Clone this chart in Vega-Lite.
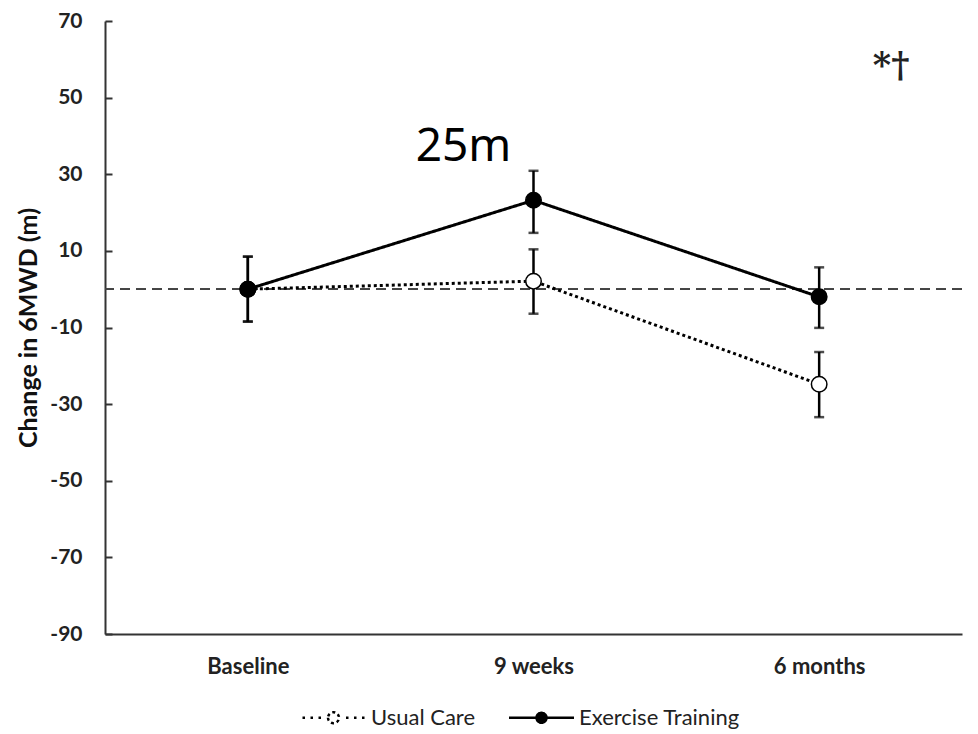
{
  "$schema": "https://vega.github.io/schema/vega-lite/v6.json",
  "width": 857,
  "height": 613,
  "autosize": "none",
  "padding": {"left": 105, "top": 21, "right": 16, "bottom": 100},
  "background": "white",
  "config": {
    "view": {"stroke": null},
    "font": "Lato",
    "axis": {"grid": false, "domainColor": "#333", "domainWidth": 2, "tickColor": "#333", "tickWidth": 2, "labelColor": "#222", "titleColor": "#111"},
    "legend": {
      "title": null, "orient": "none", "direction": "horizontal", "legendX": 217, "legendY": 685,
      "symbolSize": 400, "symbolStrokeWidth": 2.5, "symbolStrokeColor": "black",
      "labelFont": "Lato", "labelFontSize": 22, "labelLimit": 300, "labelColor": "#222", "columnPadding": 28, "labelOffset": 26
    }
  },
  "datasets": {
    "pts": [
      {"time": "Baseline", "group": "Usual Care", "mean": 0, "lower": -8.5, "upper": 8.5},
      {"time": "9 weeks", "group": "Usual Care", "mean": 2.1, "lower": -6.4, "upper": 10.4},
      {"time": "6 months", "group": "Usual Care", "mean": -24.8, "lower": -33.4, "upper": -16.4},
      {"time": "Baseline", "group": "Exercise Training", "mean": 0, "lower": -8.4, "upper": 8.5},
      {"time": "9 weeks", "group": "Exercise Training", "mean": 23.2, "lower": 14.7, "upper": 30.9},
      {"time": "6 months", "group": "Exercise Training", "mean": -2.0, "lower": -10.1, "upper": 5.7}
    ],
    "notes": [
      {"time": "9 weeks", "y": 33.5, "label": "25m", "kind": "big"},
      {"time": "6 months", "y": 55.5, "label": "*†", "kind": "sig"}
    ]
  },
  "data": {"name": "pts"},
  "encoding": {
    "x": {"field": "time", "type": "ordinal", "sort": ["Baseline", "9 weeks", "6 months"],
      "scale": {"type": "point", "padding": 0.5, "domain": ["Baseline", "9 weeks", "6 months"]},
      "axis": {"title": null, "ticks": false, "labelPadding": 22, "labelFontSize": 22, "labelFontWeight": "bold", "labelAngle": 0}}
  },
  "layer": [
    {
      "mark": {"type": "rule", "strokeDash": [10, 6], "color": "#444", "strokeWidth": 1.5},
      "encoding": {"x": null, "y": {"datum": 0, "type": "quantitative"}}
    },
    {
      "mark": {"type": "line", "color": "black", "strokeWidth": 3},
      "encoding": {
        "y": {"field": "mean", "type": "quantitative",
          "scale": {"domain": [-90, 70], "nice": false, "zero": false},
          "axis": {"title": "Change in 6MWD (m)", "values": [-90, -70, -50, -30, -10, 10, 30, 50, 70], "labelExpr": "'' + datum.value", "tickSize": -7, "labelPadding": 30, "labelFontSize": 21, "labelFontWeight": "bold", "titleFontSize": 25, "titleFontWeight": "bold", "titlePadding": 8}},
        "strokeDash": {"field": "group", "type": "nominal", "scale": {"domain": ["Usual Care", "Exercise Training"], "range": [[3, 3], [1, 0]]},
          "legend": {
            "encode": {"symbols": {"update": {
              "shape": {"signal": "datum.value === 'Usual Care' ? 'M-3.1,0H-2.85M-2.3,0H-2.05M-1.5,0H-1.25M-0.55,0A0.55,0.55 0 1,0 0.55,0A0.55,0.55 0 1,0 -0.55,0ZM1.25,0H1.5M2.05,0H2.3M2.85,0H3.1' : 'M-3.25,0H-0.5M-0.5,0A0.5,0.5 0 1,0 0.5,0A0.5,0.5 0 1,0 -0.5,0ZM0.5,0H3.25'"},
              "fill": {"signal": "datum.value === 'Usual Care' ? 'white' : 'black'"},
              "stroke": {"value": "black"},
              "strokeDash": {"signal": "[1, 0]"},
              "strokeWidth": {"value": 2.5},
              "opacity": {"value": 1}
            }}}
          }},
        "order": {"field": "group", "sort": "descending"}
      }
    },
    {
      "mark": {"type": "rule", "color": "black", "strokeWidth": 2.5},
      "encoding": {"y": {"field": "lower", "type": "quantitative"}, "y2": {"field": "upper"}}
    },
    {
      "mark": {"type": "tick", "color": "black", "size": 10, "thickness": 2.5},
      "encoding": {"y": {"field": "lower", "type": "quantitative"}}
    },
    {
      "mark": {"type": "tick", "color": "black", "size": 10, "thickness": 2.5},
      "encoding": {"y": {"field": "upper", "type": "quantitative"}}
    },
    {
      "mark": {"type": "point", "shape": "circle", "filled": true, "size": 240, "stroke": "black", "strokeWidth": 1.5, "opacity": 1},
      "encoding": {
        "y": {"field": "mean", "type": "quantitative"},
        "fill": {"field": "group", "type": "nominal",
          "scale": {"domain": ["Usual Care", "Exercise Training"], "range": ["white", "black"]},
          "legend": {
            "encode": {"symbols": {"update": {
              "shape": {"signal": "datum.value === 'Usual Care' ? 'M-3.1,0H-2.85M-2.3,0H-2.05M-1.5,0H-1.25M-0.55,0A0.55,0.55 0 1,0 0.55,0A0.55,0.55 0 1,0 -0.55,0ZM1.25,0H1.5M2.05,0H2.3M2.85,0H3.1' : 'M-3.25,0H-0.5M-0.5,0A0.5,0.5 0 1,0 0.5,0A0.5,0.5 0 1,0 -0.5,0ZM0.5,0H3.25'"},
              "fill": {"signal": "datum.value === 'Usual Care' ? 'white' : 'black'"},
              "stroke": {"value": "black"},
              "strokeDash": {"signal": "[1, 0]"},
              "strokeWidth": {"value": 2.5},
              "opacity": {"value": 1}
            }}}
          }
        }
      }
    },
    {
      "data": {"name": "notes"},
      "transform": [{"filter": "datum.kind === 'big'"}],
      "mark": {"type": "text", "font": "Noto Sans", "fontSize": 46, "baseline": "alphabetic", "align": "center", "dx": -70, "color": "black"},
      "encoding": {"y": {"field": "y", "type": "quantitative"}, "text": {"field": "label"}}
    },
    {
      "data": {"name": "notes"},
      "transform": [{"filter": "datum.kind === 'sig'"}],
      "mark": {"type": "text", "font": "DejaVu Serif", "fontSize": 35, "fontWeight": "bold", "baseline": "alphabetic", "align": "center", "dx": 72, "color": "#222"},
      "encoding": {"y": {"field": "y", "type": "quantitative"}, "text": {"field": "label"}}
    }
  ]
}
